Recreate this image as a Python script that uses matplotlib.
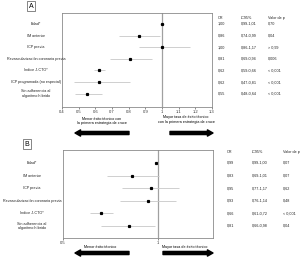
import matplotlib
matplotlib.use("Agg")
import matplotlib.pyplot as plt
import matplotlib.transforms as mtransforms

plt.rcParams["font.family"] = ["Liberation Sans", "DejaVu Sans"]

# Panel A: éxito técnico con la primera estrategia de cruce
labels_a = ["Edad*", "IM anterior", "ICP previa", "Revascularización coronaria previa",
            "Índice J-CTO*", "ICP programada (no especial)", "Sin adherencia al\nalgoritmo híbrido"]
or_a = [1.00, 0.86, 1.00, 0.81, 0.62, 0.62, 0.55]
lo_a = [0.99, 0.74, 0.86, 0.69, 0.59, 0.47, 0.48]
hi_a = [1.01, 0.99, 1.17, 0.94, 0.66, 0.81, 0.64]
or_txt_a = ["1,00", "0,86", "1,00", "0,81", "0,62", "0,62", "0,55"]
ci_txt_a = ["0,99-1,01", "0,74-0,99", "0,86-1,17", "0,69-0,94", "0,59-0,66", "0,47-0,81", "0,48-0,64"]
p_txt_a = ["0,70", "0,04", "> 0,99", "0,006", "< 0,001", "< 0,001", "< 0,001"]
xticks_a = [0.4, 0.5, 0.6, 0.7, 0.8, 0.9, 1.0, 1.1, 1.2, 1.3]
xticklabels_a = ["0.4", "0.5", "0.6", "0.7", "0.8", "0.9", "1", "1.1", "1.2", "1.3"]

# Panel B: éxito técnico global
labels_b = ["Edad*", "IM anterior", "ICP previa", "Revascularización coronaria previa",
            "Índice J-CTO*", "Sin adherencia al\nalgoritmo híbrido"]
or_b = [0.99, 0.83, 0.95, 0.93, 0.66, 0.81]
lo_b = [0.99, 0.69, 0.77, 0.76, 0.61, 0.66]
hi_b = [1.00, 1.01, 1.17, 1.14, 0.72, 0.98]
or_txt_b = ["0,99", "0,83", "0,95", "0,93", "0,66", "0,81"]
ci_txt_b = ["0,99-1,00", "0,69-1,01", "0,77-1,17", "0,76-1,14", "0,61-0,72", "0,66-0,98"]
p_txt_b = ["0,07", "0,07", "0,62", "0,48", "< 0,001", "0,04"]
xticks_b = [0.5, 1.0]
xticklabels_b = ["0.5", "1"]

FS = 2.7
W, H = 300, 257


def fx(px):
    return px / W


def fy(py):
    return 1 - py / H


fig = plt.figure(figsize=(3.0, 2.57), dpi=100)
fig.patch.set_facecolor("white")


def forest(rect, labels, ors, los, his, or_txt, ci_txt, p_txt, ylim, xlim, log,
           xticks, xticklabels, label_x, cols, header_y):
    ax = fig.add_axes(rect)
    n = len(labels)
    rows = list(range(n))
    ax.hlines(rows, los, his, color="#c8c8c8", lw=0.6, zorder=2)
    ax.plot(ors, rows, "s", color="black", ms=1.3, zorder=3)
    ax.axvline(1.0, color="#a0a0a0", lw=0.9, zorder=1)
    if log:
        ax.set_xscale("log")
    ax.set_xlim(*xlim)
    ax.set_ylim(*ylim)
    ax.set_yticks([])
    ax.set_xticks(xticks)
    ax.set_xticklabels(xticklabels)
    ax.xaxis.set_minor_locator(matplotlib.ticker.NullLocator())
    ax.tick_params(axis="x", labelsize=3.0, length=1.5, width=0.4, pad=1, colors="#333333")
    for s in ax.spines.values():
        s.set_color("#8a8a8a")
        s.set_linewidth(0.6)

    tr = mtransforms.blended_transform_factory(fig.transFigure, ax.transData)
    for i, lab in enumerate(labels):
        fig.text(label_x, i, lab, transform=tr, ha="center", va="center",
                 fontsize=FS, color="#222222", linespacing=1.2)
    for x, head in zip(cols, ["OR", "IC95%", "Valor de p"]):
        fig.text(x, header_y, head, transform=tr, ha="left", va="center",
                 fontsize=FS, color="#222222")
    for i in rows:
        for x, t in zip(cols, [or_txt[i], ci_txt[i], p_txt[i]]):
            fig.text(x, i, t, transform=tr, ha="left", va="center",
                     fontsize=FS, color="#222222")
    return ax


forest([fx(62), fy(107), fx(150), (107 - 13) / H], labels_a, or_a, lo_a, hi_a,
       or_txt_a, ci_txt_a, p_txt_a, (7.15, -0.95), (0.4, 1.3), False,
       xticks_a, xticklabels_a, fx(36), [fx(218), fx(241), fx(268)], -0.55)

forest([fx(63), fy(238), fx(150), (238 - 150) / H], labels_b, or_b, lo_b, hi_b,
       or_txt_b, ci_txt_b, p_txt_b, (5.95, -1.03), (0.5, 1.5), True,
       xticks_b, xticklabels_b, fx(32), [fx(227), fx(252), fx(283)], -0.85)

# panel letters
for letter, x, y in [("A", 31, 6), ("B", 27, 144)]:
    fig.text(fx(x), fy(y), letter, ha="center", va="center", fontsize=5,
             bbox=dict(boxstyle="square,pad=0.25", fc="white", ec="#555555", lw=0.5))

# direction captions
fig.text(fx(102), fy(121), "Menor éxito técnico con\nla primera estrategia de cruce",
         ha="center", va="center", fontsize=FS, linespacing=1.2)
fig.text(fx(186), fy(119.5), "Mayor tasa de éxito técnico\ncon la primera estrategia de cruce",
         ha="center", va="center", fontsize=FS, linespacing=1.2)
fig.text(fx(100), fy(247), "Menor éxito técnico", ha="center", va="center", fontsize=FS)
fig.text(fx(185), fy(247), "Mayor tasa de éxito técnico", ha="center", va="center", fontsize=FS)

arrow = dict(arrowstyle="simple,head_length=0.8,head_width=0.9,tail_width=0.45",
             color="black", mutation_scale=5, shrinkA=0, shrinkB=0)
for x0, x1, y in [(129, 75, 133), (170, 213, 133), (129, 75, 253), (163, 213, 253)]:
    fig.add_artist(matplotlib.text.Annotation(
        "", xy=(fx(x1), fy(y)), xytext=(fx(x0), fy(y)),
        xycoords="figure fraction", textcoords="figure fraction", arrowprops=arrow))

fig.savefig("out.png", dpi=100)
